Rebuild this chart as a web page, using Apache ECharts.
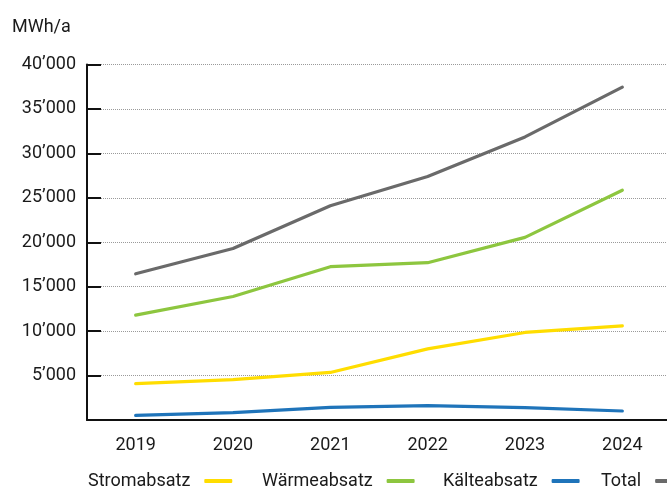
<!DOCTYPE html>
<html>
<head>
<meta charset="utf-8">
<script src="https://cdn.jsdelivr.net/npm/echarts@6/dist/echarts.min.js"></script>
<style>
html,body{margin:0;padding:0;background:#fff;}
#chart{width:667px;height:489px;}
</style>
</head>
<body>
<div id="chart"></div>
<script>
const years = ['2019', '2020', '2021', '2022', '2023', '2024'];
const stromabsatz = [4100, 4550, 5350, 8000, 9850, 10600];
const waermeabsatz = [11800, 13900, 17250, 17700, 20550, 25850];
const kaelteabsatz = [520, 830, 1420, 1620, 1390, 1010];
const total = [16450, 19300, 24100, 27400, 31850, 37450];
const seriesNames = ['Stromabsatz', 'Wärmeabsatz', 'Kälteabsatz', 'Total'];
const unitLabel = 'MWh/a';

const FONT = 'Roboto';
const TXT = '#1a1a1a';
const colors = ['#FFDD00', '#8DC63F', '#1F74BA', '#6A6A6A'];
const values = [stromabsatz, waermeabsatz, kaelteabsatz, total];

function fmt(v) {
  if (v === 0) return '';
  const s = String(v);
  return s.replace(/\B(?=(\d{3})+(?!\d))/g, '\u2019');
}

const legendLefts = [88, 262, 443, 601];

const chart = echarts.init(document.getElementById('chart'), null, {renderer: 'canvas'});
chart.setOption({
  animation: false,
  backgroundColor: '#ffffff',
  title: {
    text: unitLabel,
    left: 12, top: 18,
    padding: 0,
    textStyle: {fontFamily: FONT, fontSize: 18, fontWeight: 'normal', color: TXT}
  },
  legend: seriesNames.map((n, i) => ({
    data: [n],
    left: legendLefts[i],
    top: 472,
    padding: 0,
    align: 'right',
    icon: 'roundRect',
    itemWidth: 28,
    itemHeight: 4,
    formatter: name => name + '  ',
    textStyle: {fontFamily: FONT, fontSize: 18, color: TXT}
  })),
  grid: {left: 87, right: -4, top: 64.5, bottom: 69, containLabel: false, outerBoundsMode: 'none'},
  xAxis: {
    type: 'category',
    data: years,
    boundaryGap: true,
    axisLine: {lineStyle: {color: '#111', width: 2}},
    axisTick: {alignWithLabel: true, inside: true, length: 8, lineStyle: {color: '#111', width: 2}},
    axisLabel: {fontFamily: FONT, fontSize: 18, color: TXT, margin: 16},
    splitLine: {show: false}
  },
  yAxis: {
    type: 'value',
    min: 0, max: 40000, interval: 5000,
    axisLine: {show: true, lineStyle: {color: '#111', width: 2}},
    axisTick: {show: true, inside: true, length: 14, lineStyle: {color: '#111', width: 2}},
    axisLabel: {fontFamily: FONT, fontSize: 18, color: TXT, margin: 11, formatter: fmt, padding: [10, 0, 0, 0]},
    splitLine: {show: true, lineStyle: {color: '#9a9a9a', width: 1, type: [1, 1]}}
  },
  series: seriesNames.map((n, i) => ({
    name: n,
    type: 'line',
    data: values[i],
    showSymbol: false,
    symbol: 'none',
    color: colors[i],
    lineStyle: {width: 3.2, color: colors[i], cap: 'round', join: 'round'},
    z: 10 - i
  }))
});
</script>
</body>
</html>
